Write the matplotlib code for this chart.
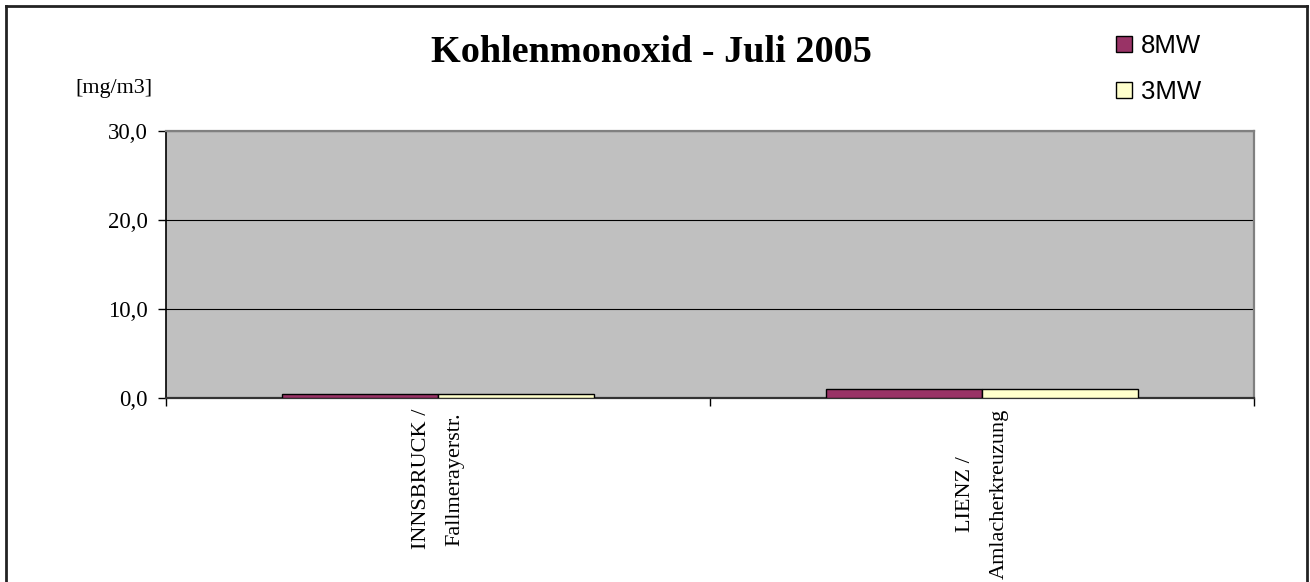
import matplotlib.pyplot as plt
import numpy as np
from matplotlib.lines import Line2D

# Data
stations = ['INNSBRUCK /\nFallmerayerstr.', 'LIENZ /\nAmlacherkreuzung']
mw8 = [0.5, 1.0]
mw3 = [0.5, 1.0]
yticks = [0, 10, 20, 30]

serif = 'Liberation Serif'
sans = 'Liberation Sans'

W, H = 1310, 582
fig = plt.figure(figsize=(W/100, H/100), dpi=100)
ax = fig.add_axes([166/W, 1-398/H, (1254-166)/W, (398-131)/H])

x = np.arange(len(stations))
w = 0.287
ax.bar(x - w/2, mw8, w, color='#993366', edgecolor='black', linewidth=1, label='8MW', zorder=3)
ax.bar(x + w/2, mw3, w, color='#FFFFCC', edgecolor='black', linewidth=1, label='3MW', zorder=3)

ax.set_facecolor('#C0C0C0')
ax.set_xlim(-0.5, len(stations) - 0.5)
ax.set_ylim(0, 30)
ax.set_yticks(yticks)
ax.set_yticklabels([f'{v:.1f}'.replace('.', ',') for v in yticks], fontfamily=serif, fontsize=16.5)
ax.yaxis.grid(True, color='black', linewidth=0.8, zorder=1)
ax.set_axisbelow(True)

ax.set_xticks(np.arange(-0.5, len(stations), 1.0))
ax.set_xticklabels([])
ax.tick_params(axis='both', direction='out', length=6, color='black', width=1)
ax.tick_params(axis='y', pad=7)
for s in ax.spines.values():
    s.set_color('#808080')
    s.set_linewidth(1.6)
ax.spines['left'].set_color('black')
ax.spines['left'].set_linewidth(1.2)
ax.spines['bottom'].set_color('#333333')
ax.spines['bottom'].set_linewidth(1.6)

for xi, lab in zip(x, stations):
    ax.text(xi, -0.04, lab, transform=ax.get_xaxis_transform(), rotation=90,
            ha='center', va='top', multialignment='center', linespacing=2.05,
            fontfamily=serif, fontsize=16)

fig.text(651/W, 1-53/H, 'Kohlenmonoxid - Juli 2005', ha='center', va='center',
         fontfamily=serif, fontweight='bold', fontsize=27.5)
fig.text(114/W, 1-88/H, '[mg/m3]', ha='center', va='center', fontfamily=serif, fontsize=15.8)

leg = fig.legend(loc='upper left', bbox_to_anchor=(1093/W, 1-11/H), frameon=False,
                 prop={'family': sans, 'size': 18.5}, handlelength=0.6, handleheight=0.6,
                 labelspacing=0.85, handletextpad=0.35)

# figure frame (left, top, right)
frame = dict(color='#222222', linewidth=2, transform=fig.transFigure)
fig.add_artist(Line2D([6/W, 6/W], [0, 1-6/H], **frame))
fig.add_artist(Line2D([6/W, 1307/W], [1-6/H, 1-6/H], **frame))
fig.add_artist(Line2D([1307/W, 1307/W], [0, 1-6/H], **frame))

fig.savefig('out.png', dpi=100)
